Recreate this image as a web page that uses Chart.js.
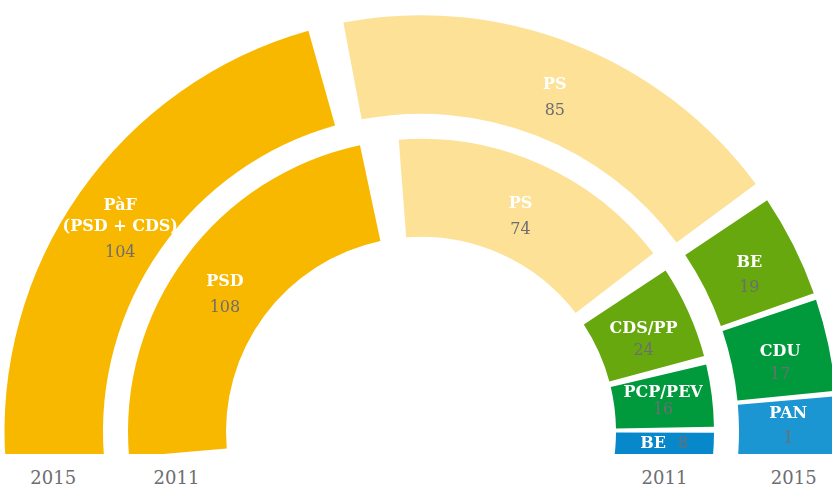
<!DOCTYPE html>
<html lang="pt">
<head>
<meta charset="UTF-8">
<title>Assembleia da República 2011 / 2015</title>
<script src="https://cdn.jsdelivr.net/npm/chart.js@4"></script>
<style>
  html, body { margin: 0; padding: 0; background: #fff; }
  body { width: 832px; height: 487px; position: relative; overflow: hidden; font-family: "DejaVu Serif", serif; }
  /* os anéis são cortados a direito em baixo */
  .rings { position: absolute; left: 0; top: 0; width: 832px; height: 454px; overflow: hidden; }
  .rings canvas { position: absolute; left: 0; top: 0; }
  .year { position: absolute; top: 467px; width: 80px; margin-left: -40px; text-align: center; font-size: 18px; color: #6d6e71; }
</style>
</head>
<body>
<div class="rings">
  <canvas id="chart2015" width="860" height="500"></canvas>
  <canvas id="chart2011" width="860" height="500"></canvas>
</div>

<script>
// lugares por partido
const parties2015 = [['PàF', '(PSD + CDS)'], ['PS'], ['BE'], ['CDU'], ['PAN']];
const seats2015 = [104, 85, 19, 17, 1];
const colors2015 = ['#f9b800', '#fce197', '#66a80e', '#009a3d', '#1c96d2'];

const parties2011 = [['PSD'], ['PS'], ['CDS/PP'], ['PCP/PEV'], ['BE']];
const seats2011 = [108, 74, 24, 16, 8];
const colors2011 = ['#f9b800', '#fce197', '#66a80e', '#009a3d', '#0788cb'];

// fatia mínima desenhada, para os partidos pequenos terem espaço para o rótulo
const minSeats = 12;

// geometria
const CX = 420.5, CY = 432;        // centro dos anéis na página
const CLIP_Y = 454;                // corte em baixo
const SPACING = 46;
// start: ângulo (graus, a partir da direita, sentido anti-horário) onde começa o anel
const RING_2015 = { inner: 318, outer: 416.5, start: 187, sweep: 191.5 };
const RING_2011 = { inner: 195, outer: 293, start: 189.5, sweep: 199.4 };

const NAME_FONT = 'bold 16px "DejaVu Serif", serif';
const VALUE_FONT = '16px "DejaVu Serif", serif';
const VALUE_COLOR = '#6d6e71';
const NAME_STEP = 21;

// rótulos no centro de cada fatia (nome a branco, lugares a cinzento)
function sliceLabels(names, seats) {
    return {
        id: 'sliceLabels',
        afterDatasetsDraw(chart) {
            const ctx = chart.ctx;
            const arcs = chart.getDatasetMeta(0).data;
            const limit = arcs[0].y + (CLIP_Y - CY);
            ctx.save();
            ctx.textBaseline = 'middle';
            arcs.forEach((arc, i) => {
                const p = arc.getCenterPoint();
                const rMid = Math.hypot(p.x - arc.x, p.y - arc.y);
                const arcLen = (arc.endAngle - arc.startAngle) * rMid;
                let valueStep = Math.max(17, Math.min(26, arcLen * 0.26));
                const value = String(seats[i]);
                // bloco um pouco abaixo do centro nas fatias grandes
                let y = p.y + (valueStep > 20 ? 8 : 0);
                let inline = false;
                // fatia cortada em baixo (lado direito): usar só a parte visível
                const lower = arc.y + rMid * Math.sin(arc.endAngle);
                if (lower > limit && p.y > limit - 80) {
                    const upper = arc.y + rMid * Math.sin(arc.startAngle);
                    const room = limit - upper;
                    inline = room < 40;
                    valueStep = Math.min(26, room * 0.45);
                    y = (upper + limit) / 2;
                    if (inline) y = Math.min(y + 2, limit - 10);
                }
                const blockH = (names[i].length - 1) * NAME_STEP + valueStep;
                if (inline) {
                    const name = names[i].join(' ');
                    ctx.font = NAME_FONT;
                    const wn = ctx.measureText(name).width;
                    ctx.font = VALUE_FONT;
                    const wv = ctx.measureText(value).width;
                    const gap = 12;
                    const x0 = p.x - (wn + gap + wv) / 2;
                    ctx.textAlign = 'left';
                    ctx.font = NAME_FONT;
                    ctx.fillStyle = '#fff';
                    ctx.fillText(name, x0, y);
                    ctx.font = VALUE_FONT;
                    ctx.fillStyle = VALUE_COLOR;
                    ctx.fillText(value, x0 + wn + gap, y);
                } else {
                    const top = y - blockH / 2;
                    ctx.textAlign = 'center';
                    ctx.font = NAME_FONT;
                    ctx.fillStyle = '#fff';
                    names[i].forEach((n, k) => ctx.fillText(n, p.x, top + k * NAME_STEP));
                    ctx.font = VALUE_FONT;
                    ctx.fillStyle = VALUE_COLOR;
                    ctx.fillText(value, p.x, top + blockH);
                }
            });
            ctx.restore();
        }
    };
}

function makeRing(canvasId, year, names, seats, colors, ring) {
    const s = SPACING / 2;   // o chart.js desenha o anel deslocado de metade do spacing
    const radius = ring.outer - s;
    const cutout = (ring.inner - s) / radius * 100;
    const canvas = document.getElementById(canvasId);
    const chart = new Chart(canvas, {
        type: 'doughnut',
        data: {
            labels: names.map(n => n.join(' ')),
            datasets: [{
                label: year,
                data: seats.map(v => Math.max(v, minSeats)),
                backgroundColor: colors,
                borderWidth: 0,
                spacing: SPACING,
                hoverOffset: 0
            }]
        },
        options: {
            responsive: false,
            animation: false,
            events: [],
            rotation: 90 - ring.start,
            circumference: ring.sweep,
            radius: radius,
            cutout: cutout + '%',
            plugins: {
                legend: { display: false },
                tooltip: { enabled: false }
            }
        },
        plugins: [sliceLabels(names, seats)]
    });
    // alinhar o centro do anel com o centro comum
    const arc = chart.getDatasetMeta(0).data[0];
    canvas.style.left = (CX - arc.x) + 'px';
    canvas.style.top = (CY - arc.y) + 'px';
    return chart;
}

makeRing('chart2015', '2015', parties2015, seats2015, colors2015, RING_2015);
makeRing('chart2011', '2011', parties2011, seats2011, colors2011, RING_2011);

// anos por baixo de cada anel, dos dois lados
function addYear(text, x) {
    const div = document.createElement('div');
    div.className = 'year';
    div.style.left = x + 'px';
    div.textContent = text;
    document.body.appendChild(div);
}
const mid2015 = (RING_2015.inner + RING_2015.outer) / 2;
const mid2011 = (RING_2011.inner + RING_2011.outer) / 2;
addYear('2015', CX - mid2015);
addYear('2011', CX - mid2011);
addYear('2011', CX + mid2011);
addYear('2015', CX + mid2015 + 6);
</script>
</body>
</html>
